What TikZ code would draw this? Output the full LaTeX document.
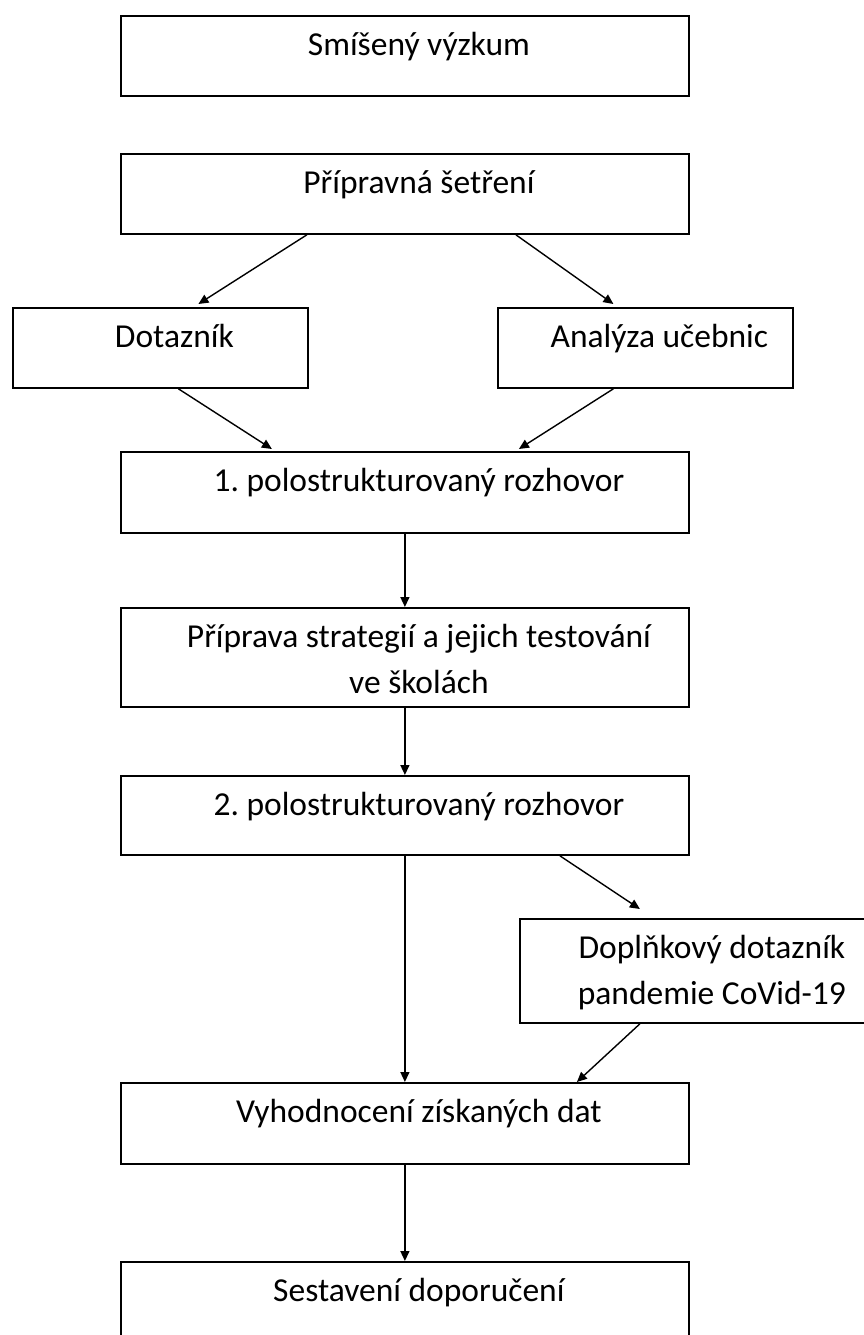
\documentclass[tikz,border=0pt]{standalone}
\usepackage{fontspec}
\setmainfont{Carlito}
\usetikzlibrary{arrows.meta}
\frenchspacing

\newcommand{\lpad}{\hspace*{28pt}}
\tikzset{>={Triangle[length=10pt,width=9pt]},
  stage/.style={draw, line width=1.8pt, anchor=north west, inner sep=0pt, align=center,
    font=\fontsize{33.5}{46}\selectfont, text height=40pt},
  wide/.style={stage, minimum width=568pt},
  flow/.style={->, line width=1.4pt}}

\begin{document}
\begin{tikzpicture}[x=1pt,y=-1pt]
	\useasboundingbox (0,0) rectangle (864,1335);
	
	% boxes
	\node[wide, minimum height=80pt, text depth=40pt] (smis) at (120,15) {\lpad Smíšený výzkum};
	\node[wide, minimum height=80pt, text depth=40pt] (prip) at (120,153) {\lpad Přípravná šetření};
	\node[stage, minimum width=295pt, minimum height=80pt, text depth=40pt] (dot) at (12,307) {\lpad Dotazník};
	\node[stage, minimum width=295pt, minimum height=80pt, text depth=40pt] (anal) at (497,307) {\lpad Analýza učebnic};
	\node[wide, minimum height=81pt, text depth=41pt] (roz1) at (120,451) {\lpad 1. polostrukturovaný rozhovor};
	\node[wide, minimum height=99pt, text height=86pt, text depth=13pt] (strat) at (120,607) {\lpad Příprava strategií a jejich testování\\\lpad ve školách};
	\node[wide, minimum height=79pt, text depth=39pt] (roz2) at (120,775) {\lpad 2. polostrukturovaný rozhovor};
	\node[stage, minimum width=356pt, minimum height=104pt, text height=86pt, text depth=18pt] (dopl) at (519,918) {\lpad Doplňkový dotazník\\\lpad pandemie CoVid-19};
	\node[wide, minimum height=81pt, text depth=41pt] (vyh) at (120,1082) {\lpad Vyhodnocení získaných dat};
	\node[wide, minimum height=100pt, text depth=60pt] (sest) at (120,1261) {\lpad Sestavení doporučení};
	
	% arrows
	\draw[flow] ([xshift=-98pt]prip.south) -- ([xshift=38pt,yshift=3pt]dot.north);
	\draw[flow] ([xshift=111pt]prip.south) -- ([xshift=-32pt,yshift=3pt]anal.north);
	\draw[flow] ([xshift=18pt]dot.south) -- ([xshift=-133pt,yshift=2pt]roz1.north);
	\draw[flow] ([xshift=-32pt]anal.south) -- ([xshift=114pt,yshift=2pt]roz1.north);
	\draw[flow] (roz1) -- (strat);
	\draw[flow] (strat) -- (roz2);
	\draw[flow] (roz2) -- (vyh);
	\draw[flow] ([xshift=155pt]roz2.south) -- ([xshift=-58pt,yshift=9pt]dopl.north);
	\draw[flow] ([xshift=-58pt]dopl.south) -- ([xshift=172pt]vyh.north);
	\draw[flow] (vyh) -- (sest);
\end{tikzpicture}
\end{document}
